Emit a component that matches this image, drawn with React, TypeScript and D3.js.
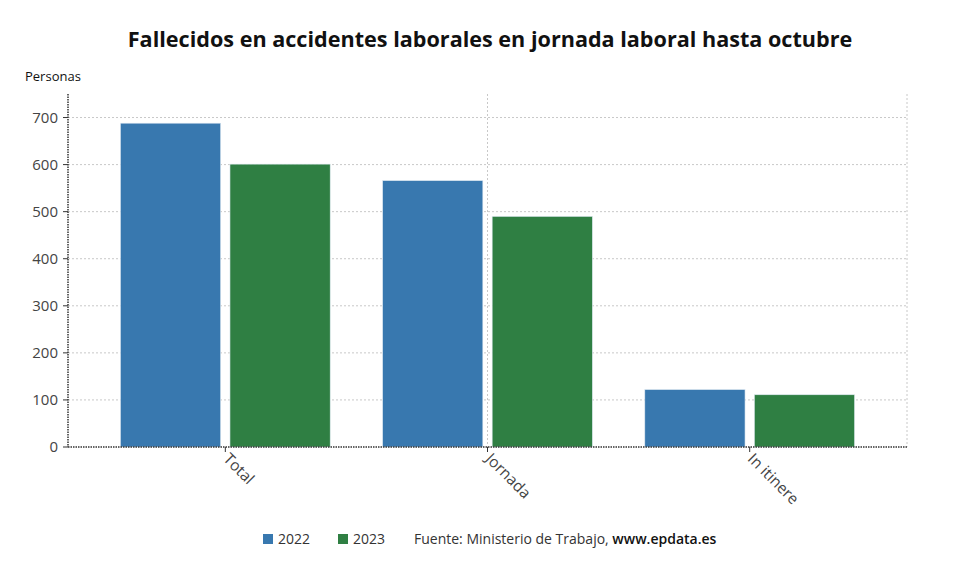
import { useEffect, useRef } from "react";
import * as d3 from "d3";

const categories = ["Total", "Jornada", "In itinere"];
const years = ["2022", "2023"];
const values2022 = [688, 566, 122];
const values2023 = [601, 490, 111];
const yTicks = [0, 100, 200, 300, 400, 500, 600, 700];

const W = 980;
const H = 575;
const margin = { top: 94, right: 73, bottom: 128, left: 68 };
const FONT = "'Open Sans', 'Noto Sans', sans-serif";

export default function App() {
  const svgRef = useRef<SVGSVGElement | null>(null);

  useEffect(() => {
    if (!svgRef.current) return;
    const svg = d3.select(svgRef.current);
    svg.selectAll("*").remove();

    const x0 = margin.left;
    const x1 = W - margin.right;
    const yBottom = H - margin.bottom;

    const x = d3
      .scaleBand<string>()
      .domain(categories)
      .range([x0, x1])
      .paddingInner(0.2)
      .paddingOuter(0.2);

    const xs = d3
      .scaleBand<string>()
      .domain(years)
      .range([0, x.bandwidth()])
      .paddingInner(0.085)
      .paddingOuter(0);

    const y = d3.scaleLinear().domain([0, 750]).range([yBottom, margin.top]);

    const color = d3
      .scaleOrdinal<string>()
      .domain(years)
      .range(["#3878af", "#2f7f43"]);

    const rows = categories.map((c, i) => ({
      cat: c,
      vals: [
        { key: "2022", value: values2022[i] },
        { key: "2023", value: values2023[i] },
      ],
    }));

    // title
    svg
      .append("text")
      .attr("x", W / 2)
      .attr("y", 47)
      .attr("text-anchor", "middle")
      .attr("font-family", FONT)
      .attr("font-weight", 700)
      .attr("font-size", 21.6)
      .attr("fill", "#111")
      .text("Fallecidos en accidentes laborales en jornada laboral hasta octubre");

    svg
      .append("text")
      .attr("x", 25)
      .attr("y", 81)
      .attr("font-family", FONT)
      .attr("font-size", 13)
      .attr("fill", "#111")
      .text("Personas");

    // horizontal grid
    svg
      .append("g")
      .selectAll("line")
      .data(yTicks.filter((t) => t > 0))
      .enter()
      .append("line")
      .attr("x1", x0)
      .attr("x2", x1)
      .attr("y1", (d) => y(d))
      .attr("y2", (d) => y(d))
      .attr("stroke", "#c8c8c8")
      .attr("stroke-dasharray", "2,2");

    // vertical grid
    const vGrid = [(x(categories[1]) ?? 0) + x.bandwidth() / 2, x1];
    svg
      .append("g")
      .selectAll("line")
      .data(vGrid)
      .enter()
      .append("line")
      .attr("x1", (d) => d)
      .attr("x2", (d) => d)
      .attr("y1", margin.top)
      .attr("y2", yBottom)
      .attr("stroke", "#c8c8c8")
      .attr("stroke-dasharray", "2,2");

    // bars
    svg
      .append("g")
      .selectAll("g")
      .data(rows)
      .enter()
      .append("g")
      .attr("transform", (d) => `translate(${x(d.cat) ?? 0},0)`)
      .selectAll("rect")
      .data((d) => d.vals)
      .enter()
      .append("rect")
      .attr("x", (d) => xs(d.key) ?? 0)
      .attr("y", (d) => y(d.value))
      .attr("width", xs.bandwidth())
      .attr("height", (d) => yBottom - y(d.value))
      .attr("fill", (d) => color(d.key))
      .attr("stroke", "#dfe9f2")
      .attr("stroke-width", 0.6);

    // axes
    svg
      .append("line")
      .attr("x1", x0)
      .attr("x2", x0)
      .attr("y1", margin.top)
      .attr("y2", yBottom)
      .attr("stroke", "#333")
      .attr("stroke-width", 1.5)
      .attr("stroke-dasharray", "1.5,1");
    svg
      .append("line")
      .attr("x1", x0)
      .attr("x2", x1)
      .attr("y1", yBottom)
      .attr("y2", yBottom)
      .attr("stroke", "#333")
      .attr("stroke-width", 1.5)
      .attr("stroke-dasharray", "1.5,1");

    const yAxis = svg.append("g");
    yTicks.forEach((t) => {
      yAxis
        .append("line")
        .attr("x1", x0 - 5)
        .attr("x2", x0)
        .attr("y1", y(t))
        .attr("y2", y(t))
        .attr("stroke", "#333");
      yAxis
        .append("text")
        .attr("x", x0 - 10)
        .attr("y", y(t))
        .attr("dy", "0.35em")
        .attr("text-anchor", "end")
        .attr("font-family", FONT)
        .attr("font-size", 15)
        .attr("fill", "#444")
        .text(t);
    });

    const xAxis = svg.append("g");
    categories.forEach((c) => {
      const cx = (x(c) ?? 0) + x.bandwidth() / 2;
      xAxis
        .append("line")
        .attr("x1", cx)
        .attr("x2", cx)
        .attr("y1", yBottom)
        .attr("y2", yBottom + 5)
        .attr("stroke", "#333");
      xAxis
        .append("text")
        .attr("transform", `translate(${cx + 1},${yBottom + 9}) rotate(45)`)
        .attr("dy", "0.35em")
        .attr("font-family", FONT)
        .attr("font-size", 15.5)
        .attr("fill", "#444")
        .text(c);
    });

    // legend
    const ly = 539;
    const legend = svg.append("g");
    const lx = [263, 338];
    years.forEach((yr, i) => {
      legend
        .append("rect")
        .attr("x", lx[i])
        .attr("y", ly - 5)
        .attr("width", 10)
        .attr("height", 10)
        .attr("fill", color(yr));
      legend
        .append("text")
        .attr("x", lx[i] + 15)
        .attr("y", ly)
        .attr("dy", "0.35em")
        .attr("font-family", FONT)
        .attr("font-size", 14)
        .attr("fill", "#333")
        .text(yr);
    });
    const src = legend
      .append("text")
      .attr("x", 414)
      .attr("y", ly)
      .attr("dy", "0.35em")
      .attr("font-family", FONT)
      .attr("font-size", 14)
      .attr("fill", "#333");
    src.append("tspan").text("Fuente: Ministerio de Trabajo, ");
    src
      .append("tspan")
      .attr("fill", "#111")
      .attr("font-weight", 600)
      .text("www.epdata.es");
  }, []);

  return (
    <svg
      ref={svgRef}
      width={W}
      height={H}
      style={{ position: "absolute", left: 0, top: 0, background: "#fff" }}
    ></svg>
  );
}
